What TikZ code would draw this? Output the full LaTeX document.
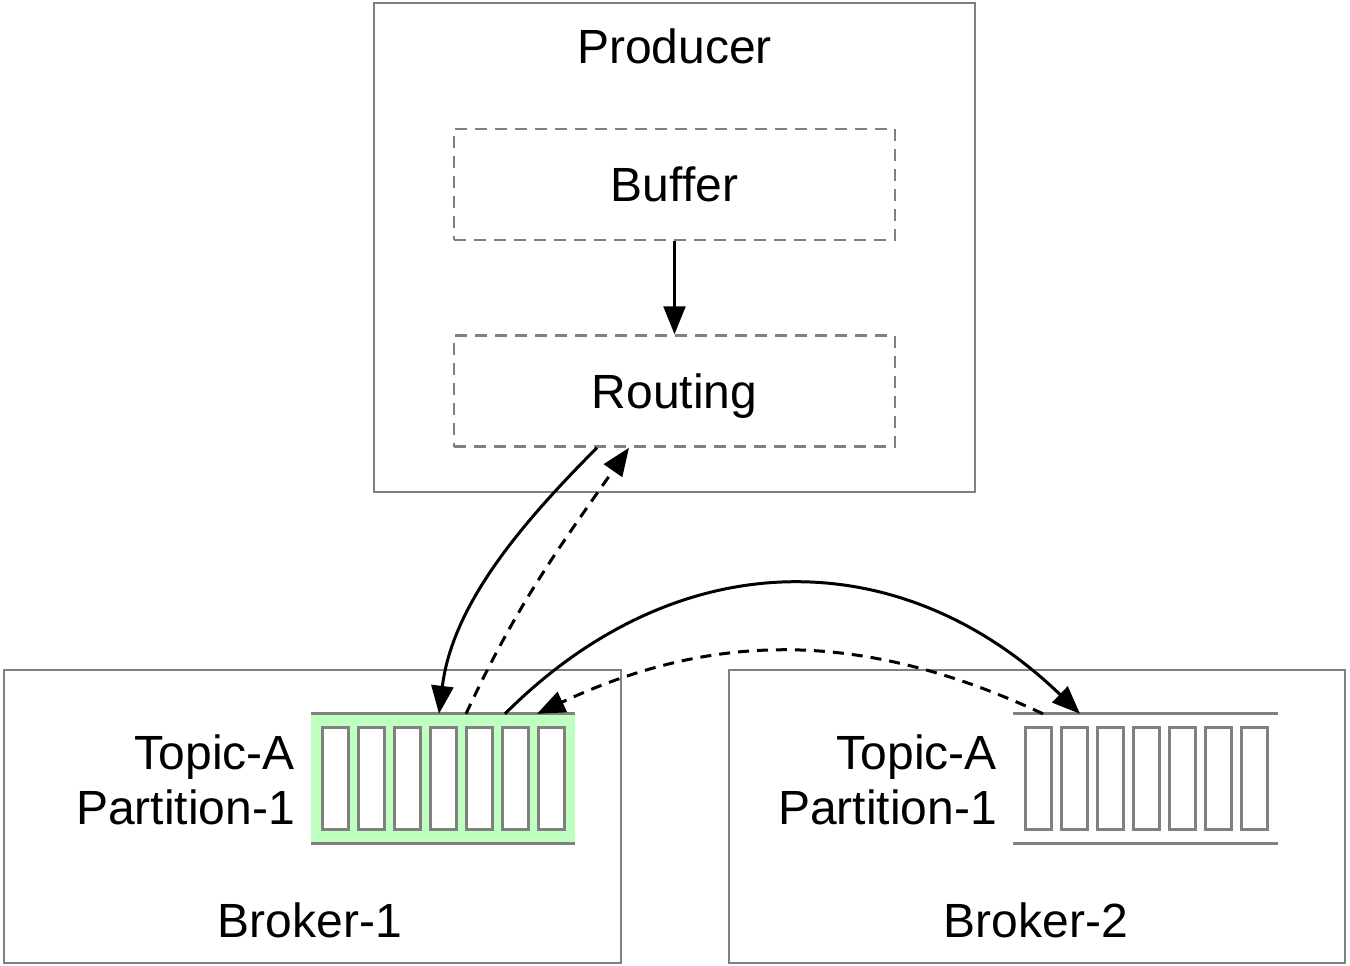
\documentclass[tikz,border=0pt]{standalone}
\usepackage{fontspec}
\setmainfont{Liberation Sans}
\usepackage{tikz}
\usetikzlibrary{arrows.meta,positioning}
\definecolor{boxgray}{HTML}{808080}
\definecolor{queuegreen}{HTML}{BFFFC0}

\begin{document}
\begin{tikzpicture}[x=1pt, y=1pt, >={Triangle[length=28pt,width=22pt]},
    box/.style={draw=boxgray, line width=2.5pt, inner sep=0pt},
    dashbox/.style={box, dash pattern=on 12pt off 8pt, font=\fontsize{48}{55}\selectfont,
        text height=34pt, text depth=0pt},
    lbl/.style={font=\fontsize{48}{55}\selectfont, inner sep=0pt},
    cell/.style={draw=boxgray, line width=3pt, fill=white, inner sep=0pt,
        minimum width=26pt, minimum height=102pt},
    flow/.style={->, line width=3pt},
    reply/.style={flow, dash pattern=on 11pt off 8pt}]
    \useasboundingbox (0,0) rectangle (1350,-966);

    % 生产者外框
    \node[box, minimum width=601pt, minimum height=489pt] (producer) at (674.5,-247.5) {};
    \node[lbl, anchor=base] (producer label) at (674.5,-64) {Producer};

    % 内部虚线框
    \node[dashbox, minimum width=441pt, minimum height=111pt] (buffer) at (674.5,-184.5) {Buffer};
    \node[dashbox, minimum width=441pt, minimum height=111pt] (routing) at (674.5,-391) {Routing};
    \draw[->, line width=2.5pt] (buffer) -- (routing);

    % 两个 Broker 外框
    \node[box, minimum width=617pt, minimum height=293pt] (broker1) at (312.5,-816.5) {};
    \node[box, minimum width=616pt, minimum height=293pt] (broker2) at (1037,-816.5) {};
    \node[lbl, anchor=base] (broker1 label) at (310,-937) {Broker-1};
    \node[lbl, anchor=base] (broker2 label) at (1036,-937) {Broker-2};

    % 分区队列
    \node[inner sep=0pt, fill=queuegreen, minimum width=264pt, minimum height=129pt] (queue1) at (443,-778.5) {};
    \node[inner sep=0pt, minimum width=265pt, minimum height=129pt] (queue2) at (1145.5,-778.5) {};
    \foreach \q in {queue1,queue2} {
        \draw[boxgray, line width=3pt] (\q.north west) -- (\q.north east);
        \draw[boxgray, line width=3pt] (\q.south west) -- (\q.south east);
    }
    \foreach \i in {0,...,6} {
        \node[cell] (q1c\i) at (335+36*\i,-778) {};
        \node[cell] (q2c\i) at (1038+36*\i,-778) {};
    }

    % 分区标注
    \node[lbl, anchor=base east, align=right] (topic1) at (295,-824) {Topic-A\\Partition-1};
    \node[lbl, anchor=base east, align=right] (topic2) at (997,-824) {Topic-A\\Partition-1};

    % 发送与确认
    \draw[flow] ([xshift=-77.5pt]routing.south) to[out=225, in=83, looseness=0.9] ([xshift=-4pt]queue1.north);
    \draw[reply] ([xshift=23pt]queue1.north) to[out=65, in=235] ([xshift=-45.5pt]routing.south);
    \draw[flow] ([xshift=62pt]queue1.north) to[out=45, in=136, looseness=1.1] ([xshift=-65.5pt]queue2.north);
    \draw[reply] ([xshift=-102.5pt]queue2.north) to[out=155, in=25] ([xshift=94pt]queue1.north);
\end{tikzpicture}
\end{document}
